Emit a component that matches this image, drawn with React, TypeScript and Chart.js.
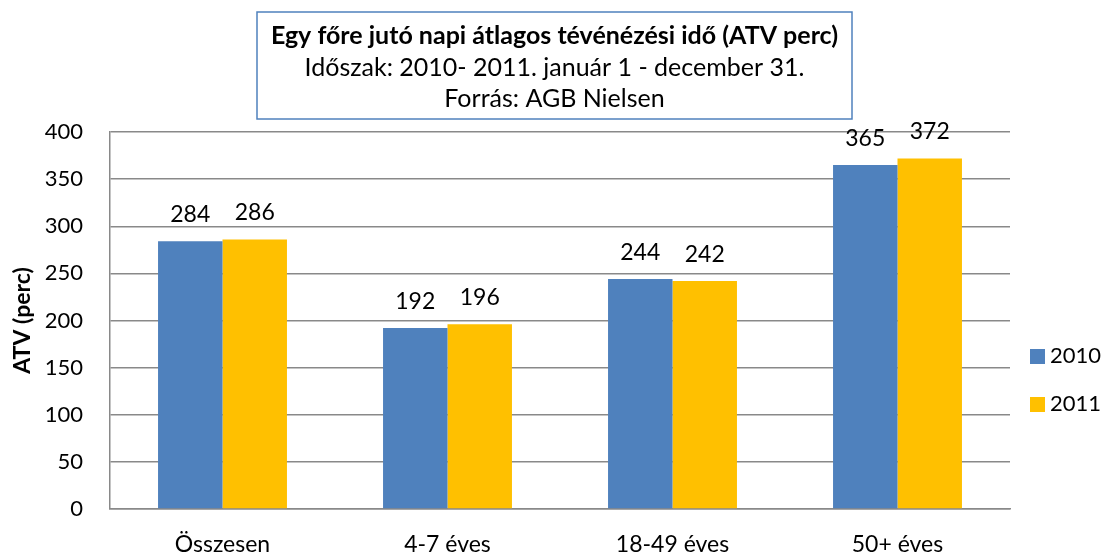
import React, { useEffect, useRef } from "react";
import { Chart, registerables } from "chart.js";

Chart.register(...registerables);

const categories = ["Összesen", "4-7 éves", "18-49 éves", "50+ éves"];
const seriesLabels = ["2010", "2011"];
const values2010 = [284, 192, 244, 365];
const values2011 = [286, 196, 242, 372];
const yMin = 0;
const yMax = 400;
const yStep = 50;
const titleLines = [
  "Egy főre jutó napi átlagos tévénézési idő (ATV perc)",
  "Időszak: 2010- 2011. január 1 - december 31.",
  "Forrás: AGB Nielsen",
];
const yAxisTitle = "ATV (perc)";

const BLUE = "#4F81BD";
const YELLOW = "#FFC000";
const GRID = "#898989";
const FONT = "Lato";

const W = 1107;
const H = 553;

const decorPlugin = {
  id: "decor",
  afterDatasetsDraw(chart: any) {
    const ctx = chart.ctx;
    ctx.save();
    ctx.fillStyle = "#000";
    ctx.font = `23px ${FONT}`;
    ctx.textAlign = "center";
    ctx.textBaseline = "alphabetic";
    chart.data.datasets.forEach((ds: any, di: number) => {
      const meta = chart.getDatasetMeta(di);
      meta.data.forEach((el: any, i: number) => {
        ctx.fillText(String(ds.data[i]), el.x, el.y - 19);
      });
    });
    ctx.restore();
  },
  afterDraw(chart: any) {
    const ctx = chart.ctx;
    const area = chart.chartArea;
    ctx.save();
    // title box
    ctx.fillStyle = "#fff";
    ctx.fillRect(257, 12, 595, 107);
    ctx.strokeStyle = "#4F81BD";
    ctx.lineWidth = 1.5;
    ctx.strokeRect(257, 12, 595, 107);
    ctx.fillStyle = "#000";
    ctx.textAlign = "center";
    ctx.textBaseline = "middle";
    const cx = 257 + 595 / 2;
    ctx.font = `bold 25px ${FONT}`;
    ctx.fillText(titleLines[0], cx, 36);
    ctx.font = `25px ${FONT}`;
    ctx.fillText(titleLines[1], cx, 68);
    ctx.fillText(titleLines[2], cx, 99);

    // y axis title
    ctx.save();
    ctx.translate(23, (area.top + area.bottom) / 2);
    ctx.rotate(-Math.PI / 2);
    ctx.font = `bold 23px ${FONT}`;
    ctx.textAlign = "center";
    ctx.textBaseline = "middle";
    ctx.fillText(yAxisTitle, 0, 0);
    ctx.restore();

    // legend
    const colors = [BLUE, YELLOW];
    const ys = [356, 404];
    ctx.font = `22px ${FONT}`;
    ctx.textAlign = "left";
    ctx.textBaseline = "middle";
    seriesLabels.forEach((lab, i) => {
      ctx.fillStyle = colors[i];
      ctx.fillRect(1030, ys[i] - 7, 15, 15);
      ctx.fillStyle = "#000";
      ctx.fillText(lab, 1050, ys[i]);
    });
    ctx.restore();
  },
};

export default function App() {
  const ref = useRef<HTMLCanvasElement | null>(null);
  useEffect(() => {
    if (!ref.current) return;
    const chart = new Chart(ref.current, {
      type: "bar",
      data: {
        labels: categories,
        datasets: [
          {
            label: seriesLabels[0],
            data: values2010,
            backgroundColor: BLUE,
            categoryPercentage: 0.573,
            barPercentage: 1,
          },
          {
            label: seriesLabels[1],
            data: values2011,
            backgroundColor: YELLOW,
            categoryPercentage: 0.573,
            barPercentage: 1,
          },
        ],
      },
      options: {
        responsive: false,
        animation: false,
        events: [],
        layout: { padding: { top: 132, right: 97, left: 0, bottom: 0 } },
        plugins: {
          legend: { display: false },
          title: { display: false },
          tooltip: { enabled: false },
        },
        scales: {
          x: {
            grid: { display: false },
            border: { color: GRID, width: 1.5 },
            ticks: {
              color: "#000",
              font: { family: FONT, size: 23 },
              padding: 14,
              maxRotation: 0,
            },
            afterFit: (s: any) => {
              s.height = 44;
            },
          },
          y: {
            min: yMin,
            max: yMax,
            ticks: {
              stepSize: yStep,
              color: "#000",
              font: { family: FONT, size: 22 },
              padding: 27,
            },
            grid: { color: GRID, lineWidth: 1.5, drawTicks: false },
            border: { color: GRID, width: 1.5 },
            afterFit: (s: any) => {
              s.width = 110;
            },
          },
        },
      },
      plugins: [decorPlugin],
    });
    return () => chart.destroy();
  }, []);
  return (
    <div style={{ position: "absolute", left: 0, top: 0, width: W, height: H, background: "#fff" }}>
      <canvas ref={ref} width={W} height={H} style={{ width: W, height: H, display: "block" }} />
    </div>
  );
}
